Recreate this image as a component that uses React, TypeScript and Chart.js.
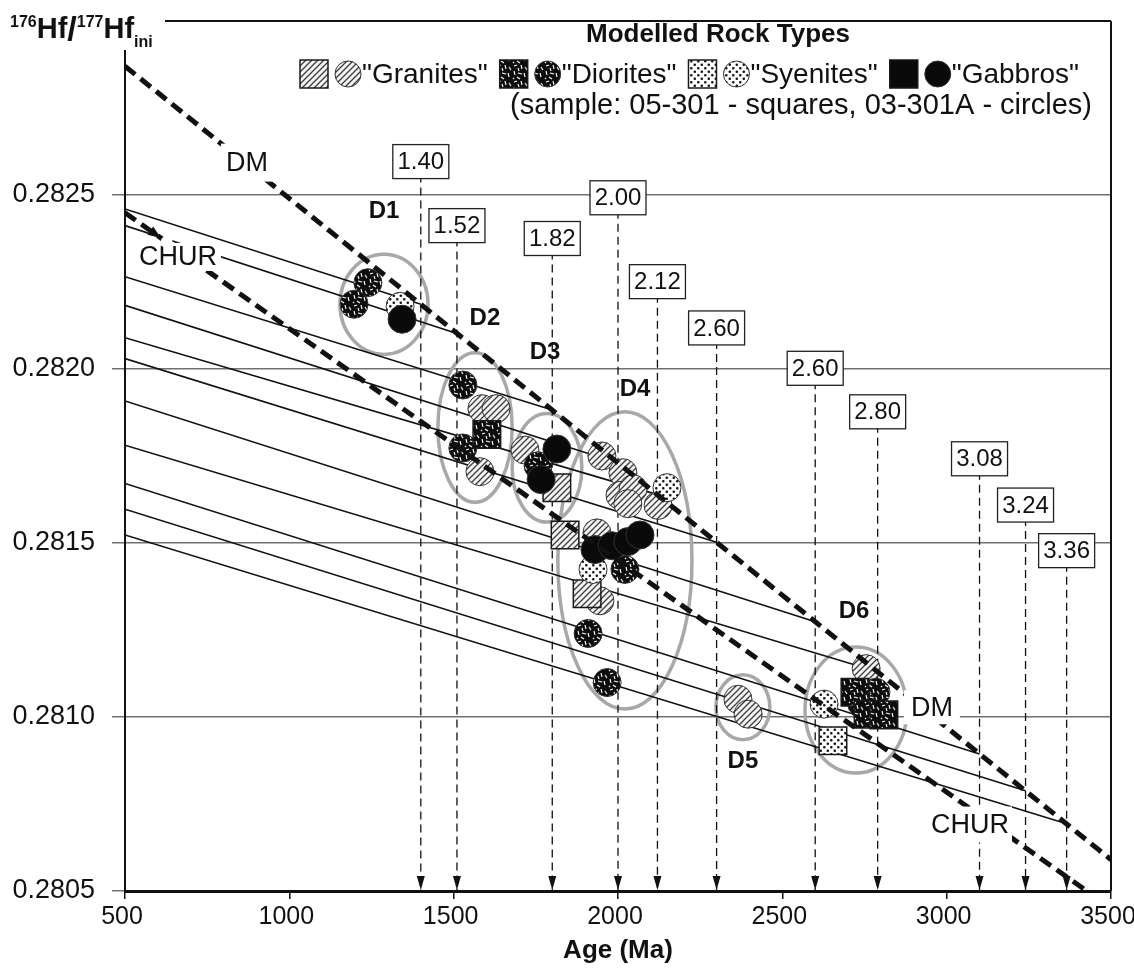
import React, { useEffect, useRef } from "react";
import { Chart, registerables } from "chart.js";

Chart.register(...registerables);

const FONT = '"Liberation Sans", Arial, Helvetica, sans-serif';
const INK = "#111111";

// ---- axes ----
const xMin = 500;
const xMax = 3500;
const xStep = 500;
const yMin = 0.2805;
const yMax = 0.283;
const yStep = 0.0005;

// ---- reservoir reference lines ----
const dmAges = [500, 3500];
const dmValues = [0.28287, 0.28059];
const churAges = [500, 3500];
const churValues = [0.282449, 0.280451];

// ---- modelled crustal evolution lines (start at 500 Ma, end on DM at model age) ----
const modelAges = [1400, 1510, 1800, 2000, 2120, 2300, 2600, 2790, 3100, 3240, 3365];
const modelLabels = ["1.40", "1.52", "1.82", "2.00", "2.12", "2.60", "2.60", "2.80", "3.08", "3.24", "3.36"];
const modelStartValues = [0.28246, 0.282412, 0.282265, 0.282183, 0.28209, 0.28203, 0.281908, 0.281781, 0.281671, 0.281597, 0.281523];
const modelEndValues = [0.282186, 0.282102, 0.281882, 0.28173, 0.281639, 0.281502, 0.281274, 0.28113, 0.280894, 0.280788, 0.280693];
const modelBoxValues = [0.282596, 0.282412, 0.282375, 0.282492, 0.282251, 0.282118, 0.282002, 0.281877, 0.281742, 0.281609, 0.281478];

// ---- samples [age (Ma), 176Hf/177Hf initial] ----
const graniteCircles = [
  [1586, 0.281886], [1629, 0.281886], [1580, 0.281705],
  [1717, 0.281767],
  [1951, 0.28175], [2015, 0.281702], [2006, 0.281637], [2046, 0.281656], [2030, 0.281613],
  [2122, 0.281608], [1936, 0.281529], [1945, 0.281334],
  [2365, 0.281051], [2396, 0.281008],
  [2755, 0.281139],
];
const graniteSquares = [[1814, 0.281659], [1839, 0.281523], [1906, 0.281354]];
const dioriteCircles = [
  [1239, 0.282248], [1197, 0.282186],
  [1528, 0.281954], [1528, 0.281773],
  [1757, 0.281722],
  [2021, 0.281424], [1909, 0.28124], [1967, 0.281099],
  [2785, 0.281071], [2742, 0.281037],
];
const dioriteSquares = [[1601, 0.281812], [2721, 0.281071], [2761, 0.281008], [2809, 0.281006]];
const syeniteCircles = [[1337, 0.28218], [2149, 0.281659], [1924, 0.281424], [2627, 0.281037]];
const syeniteSquares = [[2654, 0.280932]];
const gabbroCircles = [
  [1343, 0.282143],
  [1814, 0.28177], [1766, 0.281682],
  [1930, 0.281481], [1982, 0.281492], [2030, 0.281504], [2067, 0.281523],
];

// ---- sample groups ----
const groupNames = ["D1", "D2", "D3", "D4", "D5", "D6"];
const groupCenterAges = [1288, 1565, 1784, 2021, 2380, 2724];
const groupCenterValues = [0.282186, 0.281832, 0.281716, 0.28145, 0.281028, 0.28102];
const groupRadiusAges = [134, 113, 106, 204, 82, 155];
const groupRadiusValues = [0.000144, 0.000215, 0.000156, 0.000427, 0.0000934, 0.000181];
const groupLabelAges = [1288, 1595, 1778, 2052, 2380, 2718];
const groupLabelValues = [0.282452, 0.282146, 0.282047, 0.281942, 0.280873, 0.281303];

// ---- reservoir labels ----
const curveLabelTexts = ["DM", "CHUR", "DM", "CHUR"];
const curveLabelAges = [871, 661, 2955, 3071];
const curveLabelValues = [0.282593, 0.282322, 0.281028, 0.280691];

// ---- legend ----
const legendTitle = "Modelled Rock Types";
const legendNames = ['"Granites"', '"Diorites"', '"Syenites"', '"Gabbros"'];
const legendNote = "(sample: 05-301 - squares, 03-301A - circles)";

function makeHatch(): CanvasPattern | string {
  const c = document.createElement("canvas");
  c.width = 6;
  c.height = 6;
  const g = c.getContext("2d");
  if (!g) return "#ccc";
  g.fillStyle = "#f3f3f3";
  g.fillRect(0, 0, 6, 6);
  g.strokeStyle = "#3c3c3c";
  g.lineWidth = 1.3;
  g.beginPath();
  g.moveTo(-1, 7); g.lineTo(7, -1);
  g.moveTo(-4, 4); g.lineTo(4, -4);
  g.moveTo(2, 10); g.lineTo(10, 2);
  g.stroke();
  return g.createPattern(c, "repeat") || "#ccc";
}

function makeDiorite(): CanvasPattern | string {
  const c = document.createElement("canvas");
  c.width = 16;
  c.height = 16;
  const g = c.getContext("2d");
  if (!g) return "#111";
  g.fillStyle = "#0d0d0d";
  g.fillRect(0, 0, 16, 16);
  g.strokeStyle = "#ffffff";
  g.lineWidth = 1.1;
  const segs = [
    [2, 2, 5, 1], [9, 1, 10, 5], [13, 3, 15, 6], [2, 7, 3, 11], [6, 9, 10, 10],
    [12, 9, 13, 13], [5, 13, 8, 15], [1, 14, 2, 15], [6, 4, 7, 7],
  ];
  g.beginPath();
  segs.forEach(([a, b, cc, d]) => { g.moveTo(a, b); g.lineTo(cc, d); });
  g.stroke();
  return g.createPattern(c, "repeat") || "#111";
}

function makeDots(): CanvasPattern | string {
  const c = document.createElement("canvas");
  c.width = 7;
  c.height = 7;
  const g = c.getContext("2d");
  if (!g) return "#eee";
  g.fillStyle = "#ffffff";
  g.fillRect(0, 0, 7, 7);
  g.fillStyle = "#111";
  g.beginPath();
  g.arc(1.8, 1.8, 1.3, 0, Math.PI * 2);
  g.arc(5.3, 5.3, 1.3, 0, Math.PI * 2);
  g.fill();
  return g.createPattern(c, "repeat") || "#eee";
}

export default function App() {
  const ref = useRef<HTMLCanvasElement>(null);

  useEffect(() => {
    document.body.style.margin = "0";
    const canvas = ref.current;
    if (!canvas) return;

    const fills = {
      granite: makeHatch(),
      diorite: makeDiorite(),
      syenite: makeDots(),
      gabbro: "#0a0a0a",
    };

    const pointSet = (label: string, data: number[][], fill: any, shape: string, order: number) => ({
      label,
      data: data.map(([x, y]) => ({ x, y })),
      showLine: false,
      pointStyle: shape,
      pointRadius: shape === "rect" ? 19.5 : 14,
      pointHoverRadius: shape === "rect" ? 19.5 : 14,
      pointBackgroundColor: fill,
      backgroundColor: fill,
      pointBorderColor: shape === "rect" ? "#1a1a1a" : "#333",
      borderColor: shape === "rect" ? "#1a1a1a" : "#333",
      pointBorderWidth: shape === "rect" ? 1.5 : 1,
      order,
    });

    const lineSet = (label: string, xs: number[], ys: number[], width: number, dash: number[], order: number) => ({
      label,
      data: xs.map((x, i) => ({ x, y: ys[i] })),
      showLine: true,
      borderColor: INK,
      borderWidth: width,
      borderDash: dash,
      borderCapStyle: "butt",
      pointRadius: 0,
      pointHoverRadius: 0,
      fill: false,
      clip: 0,
      order,
    });

    const datasets: any[] = [];
    datasets.push(lineSet("DM", dmAges, dmValues, 5, [13, 7], 0));
    datasets.push(lineSet("CHUR", churAges, churValues, 5, [13, 7], 0));
    datasets.push(pointSet("Gabbros circles", gabbroCircles, fills.gabbro, "circle", 1));
    datasets.push(pointSet("Diorites squares", dioriteSquares, fills.diorite, "rect", 2));
    datasets.push(pointSet("Diorites circles", dioriteCircles, fills.diorite, "circle", 2));
    datasets.push(pointSet("Syenites squares", syeniteSquares, fills.syenite, "rect", 3));
    datasets.push(pointSet("Syenites circles", syeniteCircles, fills.syenite, "circle", 3));
    datasets.push(pointSet("Granites squares", graniteSquares, fills.granite, "rect", 4));
    datasets.push(pointSet("Granites circles", graniteCircles, fills.granite, "circle", 5));
    modelAges.forEach((age, i) => {
      datasets.push(lineSet("model " + modelLabels[i], [xMin, age], [modelStartValues[i], modelEndValues[i]], 1.6, [], 6));
      datasets.push(lineSet("arrow " + modelLabels[i], [age, age], [modelBoxValues[i], yMin], 1.3, [8, 5], 7));
    });

    const annotations = {
      id: "annotations",
      beforeDatasetsDraw(chart: any) {
        const { ctx } = chart;
        const x = chart.scales.x;
        const y = chart.scales.y;
        ctx.save();
        ctx.strokeStyle = "#a8a8a8";
        ctx.lineWidth = 3.5;
        groupCenterAges.forEach((a, i) => {
          const cx = x.getPixelForValue(a);
          const cy = y.getPixelForValue(groupCenterValues[i]);
          const rx = Math.abs(x.getPixelForValue(a + groupRadiusAges[i]) - cx);
          const ry = Math.abs(y.getPixelForValue(groupCenterValues[i] + groupRadiusValues[i]) - cy);
          ctx.beginPath();
          ctx.ellipse(cx, cy, rx, ry, 0, 0, Math.PI * 2);
          ctx.stroke();
        });
        ctx.restore();
      },
      afterDatasetsDraw(chart: any) {
        const { ctx, chartArea } = chart;
        const x = chart.scales.x;
        const y = chart.scales.y;
        ctx.save();

        // reservoir labels on white
        const boxHalf = [[26, 19], [43, 14], [28, 17], [42, 18]];
        ctx.font = `27px ${FONT}`;
        ctx.textAlign = "center";
        ctx.textBaseline = "middle";
        curveLabelTexts.forEach((t, i) => {
          const px = x.getPixelForValue(curveLabelAges[i]);
          const py = y.getPixelForValue(curveLabelValues[i]);
          const [hw, hh] = boxHalf[i];
          ctx.fillStyle = "#ffffff";
          ctx.fillRect(px - hw, py - hh, hw * 2, hh * 2);
          ctx.fillStyle = INK;
          ctx.fillText(t, px, py + 1);
        });

        // small arrow head on the upper CHUR curve, pointing at its label
        {
          const ax = x.getPixelForValue(churAges[0]);
          const ay = y.getPixelForValue(churValues[0]);
          const bx = x.getPixelForValue(churAges[1]);
          const by = y.getPixelForValue(churValues[1]);
          const ang = Math.atan2(by - ay, bx - ax);
          const hx = x.getPixelForValue(curveLabelAges[1]) - 17;
          const hy = ay + (hx - ax) * Math.tan(ang);
          const c = Math.cos(ang);
          const s = Math.sin(ang);
          ctx.fillStyle = "#ffffff";
          ctx.beginPath();
          ctx.arc(hx + 7 * c, hy + 7 * s, 6, 0, Math.PI * 2);
          ctx.fill();
          ctx.fillStyle = INK;
          ctx.beginPath();
          ctx.moveTo(hx, hy);
          ctx.lineTo(hx - 13 * c + 5 * s, hy - 13 * s - 5 * c);
          ctx.lineTo(hx - 13 * c - 5 * s, hy - 13 * s + 5 * c);
          ctx.closePath();
          ctx.fill();
        }

        // model age boxes and arrow heads
        ctx.font = `24px ${FONT}`;
        modelAges.forEach((age, i) => {
          const px = x.getPixelForValue(age);
          const py = y.getPixelForValue(modelBoxValues[i]);
          ctx.fillStyle = "#ffffff";
          ctx.fillRect(px - 28, py - 17, 56, 34);
          ctx.strokeStyle = "#222";
          ctx.lineWidth = 1.3;
          ctx.strokeRect(px - 28, py - 17, 56, 34);
          ctx.fillStyle = INK;
          ctx.fillText(modelLabels[i], px, py + 1);
          const by = chartArea.bottom;
          ctx.beginPath();
          ctx.moveTo(px, by - 1);
          ctx.lineTo(px - 4, by - 15);
          ctx.lineTo(px + 4, by - 15);
          ctx.closePath();
          ctx.fill();
        });

        // group labels
        ctx.font = `bold 24px ${FONT}`;
        groupNames.forEach((n, i) => {
          ctx.fillText(n, x.getPixelForValue(groupLabelAges[i]), y.getPixelForValue(groupLabelValues[i]));
        });

        // frame
        ctx.strokeStyle = INK;
        ctx.lineWidth = 2;
        ctx.beginPath();
        ctx.moveTo(chartArea.left, 50);
        ctx.lineTo(chartArea.left, chartArea.bottom);
        ctx.moveTo(chartArea.right, chartArea.top);
        ctx.lineTo(chartArea.right, chartArea.bottom);
        ctx.moveTo(165, chartArea.top);
        ctx.lineTo(chartArea.right, chartArea.top);
        ctx.stroke();

        // y axis title 176Hf/177Hf ini
        ctx.textAlign = "left";
        ctx.textBaseline = "alphabetic";
        ctx.fillStyle = INK;
        let tx = 10;
        const big = `bold 29px ${FONT}`;
        const small = `bold 16px ${FONT}`;
        const parts: [string, string, number][] = [
          ["176", small, 27], ["Hf", big, 38], ["/", `bold 34px ${FONT}`, 40],
          ["177", small, 27], ["Hf", big, 38], ["ini", small, 47],
        ];
        parts.forEach(([t, f, b]) => {
          ctx.font = f;
          ctx.fillText(t, tx, b);
          tx += ctx.measureText(t).width;
        });

        // legend
        ctx.font = `bold 26px ${FONT}`;
        ctx.textAlign = "center";
        ctx.fillText(legendTitle, 718, 42);
        ctx.font = `29px ${FONT}`;
        ctx.fillText(legendNote, 801, 114);

        const order = [fills.granite, fills.diorite, fills.syenite, fills.gabbro];
        ctx.font = `28px ${FONT}`;
        ctx.textAlign = "left";
        ctx.textBaseline = "middle";
        let lx = 300;
        const ly = 74;
        legendNames.forEach((name, i) => {
          ctx.fillStyle = order[i];
          ctx.fillRect(lx, ly - 14, 28, 28);
          ctx.strokeStyle = "#1a1a1a";
          ctx.lineWidth = 1.5;
          ctx.strokeRect(lx, ly - 14, 28, 28);
          ctx.beginPath();
          ctx.arc(lx + 28 + 7 + 13, ly, 13, 0, Math.PI * 2);
          ctx.fillStyle = order[i];
          ctx.fill();
          ctx.strokeStyle = "#333";
          ctx.lineWidth = 1;
          ctx.stroke();
          ctx.fillStyle = INK;
          const tx0 = lx + 28 + 7 + 26 + 1;
          ctx.fillText(name, tx0, ly + 1);
          lx = tx0 + ctx.measureText(name).width + 12;
        });

        ctx.restore();
      },
    };

    const chart = new Chart(canvas, {
      type: "scatter",
      data: { datasets },
      plugins: [annotations],
      options: {
        animation: false,
        responsive: false,
        events: [],
        layout: { padding: { top: 9, right: 23, left: 0, bottom: 0 } },
        plugins: { legend: { display: false }, tooltip: { enabled: false }, title: { display: false } },
        scales: {
          x: {
            type: "linear",
            min: xMin,
            max: xMax,
            ticks: {
              stepSize: xStep,
              autoSkip: false,
              maxRotation: 0,
              color: INK,
              padding: 3,
              labelOffset: -3,
              font: { family: FONT, size: 25 },
              callback: (v: any) => String(v),
            },
            grid: { drawOnChartArea: false, drawTicks: true, tickLength: 8, color: INK, lineWidth: 1.5 },
            border: { display: true, color: INK, width: 3 },
            title: {
              display: true,
              text: "Age (Ma)",
              color: INK,
              font: { family: FONT, size: 26, weight: "bold" },
              padding: { top: 0, bottom: 4 },
            },
            afterFit: (s: any) => {
              s.height = 79;
              s.paddingLeft = 0;
              s.paddingRight = 0;
            },
          },
          y: {
            type: "linear",
            min: yMin,
            max: yMax,
            ticks: {
              stepSize: yStep,
              autoSkip: false,
              color: INK,
              padding: 17,
              font: { family: FONT, size: 27 },
              callback: (v: any) => (v > 0.28295 ? "" : Number(v).toFixed(4)),
            },
            grid: {
              drawTicks: true,
              tickLength: 13,
              lineWidth: 1.5,
              color: (c: any) => (c.tick && c.tick.value > 0.28295 ? "rgba(0,0,0,0)" : "#707070"),
            },
            border: { display: false },
            afterFit: (s: any) => {
              s.width = 125;
              s.paddingTop = 0;
              s.paddingBottom = 0;
            },
          },
        },
      },
    } as any);

    return () => chart.destroy();
  }, []);

  return (
    <div style={{ width: 1134, height: 970 }}>
      <canvas ref={ref} width={1134} height={970} style={{ display: "block" }} />
    </div>
  );
}
